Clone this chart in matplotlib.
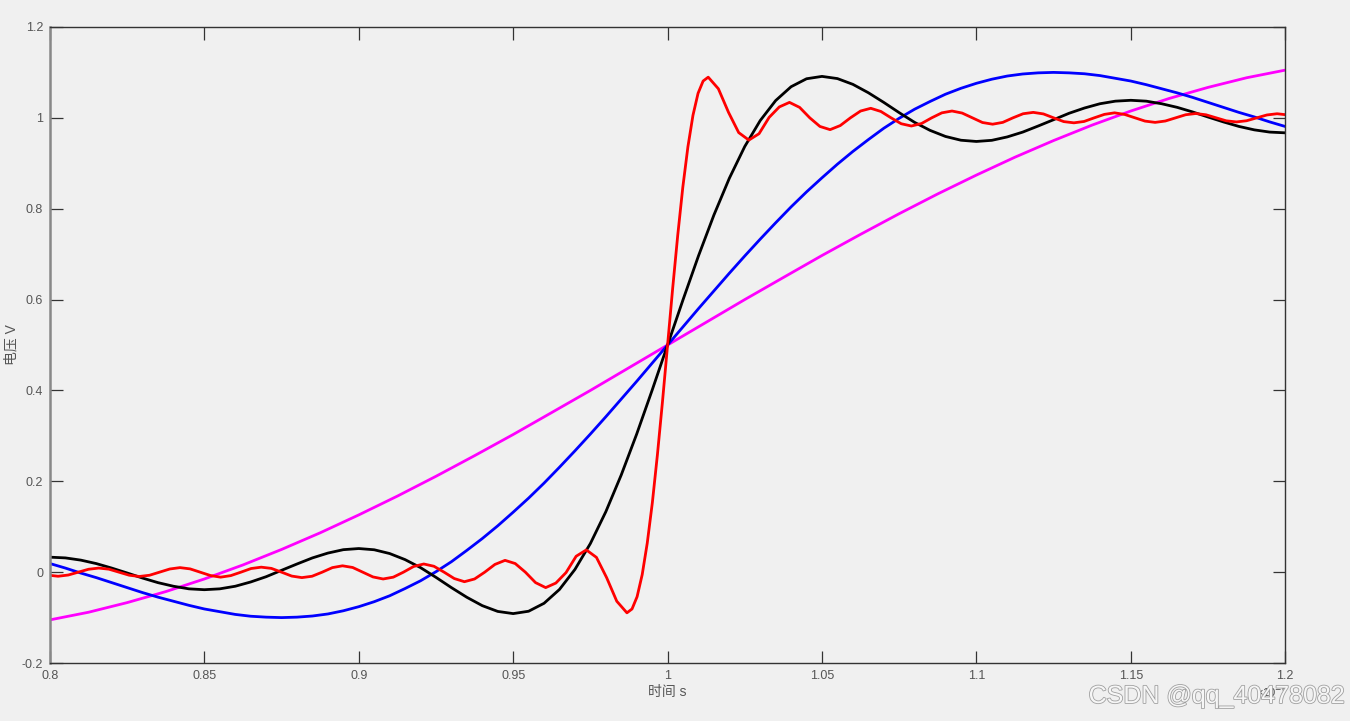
import matplotlib
matplotlib.use("Agg")
import matplotlib.pyplot as plt
import matplotlib.patheffects as pe

plt.rcParams["font.family"] = ["Liberation Sans", "Noto Sans CJK SC", "DejaVu Sans"]

# time axis in units of 1e-6 s, voltage in V
magenta_x = [0.8, 0.8125, 0.825, 0.8375, 0.85, 0.8625, 0.875, 0.8875, 0.9,
             0.9125, 0.925, 0.9375, 0.95, 0.9625, 0.975, 0.9875, 1.0,
             1.0125, 1.025, 1.0375, 1.05, 1.0625, 1.075, 1.0875, 1.1,
             1.1125, 1.125, 1.1375, 1.15, 1.1625, 1.175, 1.1875, 1.2]
magenta_y = [-0.105, -0.0882, -0.067, -0.0428, -0.015, 0.0159, 0.050, 0.0866, 0.126,
             0.1674, 0.211, 0.2564, 0.303, 0.3514, 0.400, 0.450, 0.5,
             0.55, 0.6, 0.6486, 0.697, 0.7436, 0.789, 0.8326, 0.874,
             0.9134, 0.950, 0.9841, 1.015, 1.0428, 1.067, 1.0882, 1.105]

# shared sample times for the blue and black traces
grid_x = [0.800, 0.805, 0.810, 0.815, 0.820, 0.825, 0.830, 0.835, 0.840, 0.845,
          0.850, 0.855, 0.860, 0.865, 0.870, 0.875, 0.880, 0.885, 0.890, 0.895,
          0.900, 0.905, 0.910, 0.915, 0.920, 0.925, 0.930, 0.935, 0.940, 0.945,
          0.950, 0.955, 0.960, 0.965, 0.970, 0.975, 0.980, 0.985, 0.990, 0.995,
          1.000, 1.005, 1.010, 1.015, 1.020, 1.025, 1.030, 1.035, 1.040, 1.045,
          1.050, 1.055, 1.060, 1.065, 1.070, 1.075, 1.080, 1.085, 1.090, 1.095,
          1.100, 1.105, 1.110, 1.115, 1.120, 1.125, 1.130, 1.135, 1.140, 1.145,
          1.150, 1.155, 1.160, 1.165, 1.170, 1.175, 1.180, 1.185, 1.190, 1.195,
          1.200]

blue_y = [0.019, 0.009, -0.002, -0.012, -0.023, -0.034, -0.045, -0.055, -0.064, -0.073,
          -0.081, -0.087, -0.093, -0.097, -0.099, -0.100, -0.099, -0.0965, -0.092, -0.085,
          -0.076, -0.065, -0.052, -0.036, -0.019, 0.001, 0.023, 0.048, 0.074, 0.102,
          0.132, 0.163, 0.196, 0.231, 0.267, 0.304, 0.342, 0.381, 0.420, 0.460,
          0.5, 0.540, 0.580, 0.619, 0.658, 0.696, 0.733, 0.769, 0.804, 0.837,
          0.868, 0.898, 0.926, 0.952, 0.977, 0.999, 1.019, 1.036, 1.052, 1.065,
          1.076, 1.085, 1.092, 1.0965, 1.099, 1.100, 1.099, 1.097, 1.093, 1.087,
          1.081, 1.073, 1.064, 1.055, 1.045, 1.034, 1.023, 1.012, 1.002, 0.991,
          0.981]

black_y = [0.033, 0.0314, 0.0265, 0.0189, 0.009, -0.0018, -0.013, -0.0231, -0.031, -0.0367,
           -0.0386, -0.0367, -0.031, -0.0216, -0.010, 0.0041, 0.018, 0.0314, 0.042, 0.0495,
           0.052, 0.0493, 0.041, 0.0276, 0.010, -0.0114, -0.034, -0.0553, -0.0737, -0.0864,
           -0.0912, -0.086, -0.0685, -0.038, 0.006, 0.063, 0.133, 0.214, 0.304, 0.4005,
           0.5, 0.5995, 0.696, 0.786, 0.867, 0.937, 0.994, 1.038, 1.0685, 1.086,
           1.0912, 1.0864, 1.0737, 1.0553, 1.034, 1.0114, 0.990, 0.9724, 0.959, 0.9507,
           0.948, 0.9505, 0.958, 0.9686, 0.982, 0.9959, 1.010, 1.0216, 1.031, 1.0367,
           1.0386, 1.0367, 1.031, 1.0231, 1.013, 1.0018, 0.991, 0.9811, 0.9735, 0.9686,
           0.967]

red_x = [0.8, 0.80263, 0.80592, 0.80921, 0.8125, 0.81579, 0.81908, 0.82237, 0.82566,
         0.82895, 0.83224, 0.83553, 0.83882, 0.84211, 0.84539, 0.84868, 0.85197,
         0.85526, 0.85855, 0.86184, 0.86513, 0.86842, 0.87171, 0.875, 0.87829,
         0.88158, 0.88487, 0.88816, 0.89145, 0.89474, 0.89803, 0.90132, 0.90461,
         0.90789, 0.91118, 0.91447, 0.91776, 0.92105, 0.92434, 0.92763, 0.93092,
         0.93421, 0.9375, 0.94079, 0.94408, 0.94737, 0.95066, 0.95395, 0.95724,
         0.96053, 0.96382, 0.96711, 0.97039, 0.97368, 0.97697, 0.98026, 0.98355,
         0.98684, 0.98849, 0.99013, 0.99178, 0.99342, 0.99507, 0.99671, 0.99836,
         1.0,
         1.00164, 1.00329, 1.00493, 1.00658, 1.00822, 1.00987, 1.01151, 1.01316,
         1.01645, 1.01974, 1.02303, 1.02632, 1.02961, 1.03289, 1.03618, 1.03947,
         1.04276, 1.04605, 1.04934, 1.05263, 1.05592, 1.05921, 1.0625, 1.06579,
         1.06908, 1.07237, 1.07566, 1.07895, 1.08224, 1.08553, 1.08882, 1.09211,
         1.09539, 1.09868, 1.10197, 1.10526, 1.10855, 1.11184, 1.11513, 1.11842,
         1.12171, 1.125, 1.12829, 1.13158, 1.13487, 1.13816, 1.14145, 1.14474,
         1.14803, 1.15132, 1.15461, 1.15789, 1.16118, 1.16447, 1.16776, 1.17105,
         1.17434, 1.17763, 1.18092, 1.18421, 1.1875, 1.19079, 1.19408, 1.19737, 1.2]
red_y = [-0.007, -0.009, -0.0063, 0.0, 0.0064, 0.009, 0.0066, 0.0, -0.0067,
         -0.0095, -0.0068, 0.0, 0.007, 0.010, 0.0072, 0.0, -0.0074,
         -0.011, -0.0076, 0.0, 0.008, 0.011, 0.0083, 0.0, -0.0086,
         -0.012, -0.009, 0.0, 0.010, 0.014, 0.0103, 0.0, -0.0105,
         -0.015, -0.011, 0.0, 0.0125, 0.018, 0.013, 0.0, -0.014,
         -0.021, -0.015, 0.0, 0.017, 0.026, 0.019, 0.0, -0.023,
         -0.034, -0.024, -0.001, 0.035, 0.049, 0.0325, -0.012, -0.064,
         -0.0895, -0.081, -0.054, -0.0055, 0.064, 0.153, 0.2585, 0.376,
         0.5,
         0.624, 0.7415, 0.847, 0.936, 1.0055, 1.054, 1.081, 1.0895,
         1.064, 1.012, 0.9675, 0.951, 0.965, 1.001, 1.024, 1.034,
         1.023, 1.0, 0.981, 0.974, 0.983, 1.0, 1.015, 1.021,
         1.014, 1.0, 0.987, 0.982, 0.9875, 1.0, 1.011, 1.015,
         1.0105, 1.0, 0.9897, 0.986, 0.990, 1.0, 1.009, 1.012,
         1.0086, 1.0, 0.9917, 0.989, 0.992, 1.0, 1.0076, 1.011,
         1.0074, 1.0, 0.9928, 0.990, 0.993, 1.0, 1.0068, 1.0095,
         1.0067, 1.0, 0.9934, 0.991, 0.9936, 1.0, 1.0063, 1.009, 1.007]

x_ticks = [0.8, 0.85, 0.9, 0.95, 1.0, 1.05, 1.1, 1.15, 1.2]
x_labels = ["0.8", "0.85", "0.9", "0.95", "1", "1.05", "1.1", "1.15", "1.2"]
y_ticks = [-0.2, 0, 0.2, 0.4, 0.6, 0.8, 1, 1.2]
y_labels = ["-0.2", "0", "0.2", "0.4", "0.6", "0.8", "1", "1.2"]

bg = "#f0f0f0"
fig = plt.figure(figsize=(13.5, 7.21), dpi=100, facecolor=bg)
ax = fig.add_axes([0.037, 0.0804, 0.915, 0.8822], facecolor=bg)

lw = 2.0
ax.plot(magenta_x, magenta_y, color="#ff00ff", lw=lw)
ax.plot(grid_x, blue_y, color="#0000ff", lw=lw)
ax.plot(grid_x, black_y, color="#000000", lw=lw)
ax.plot(red_x, red_y, color="#ff0000", lw=lw)

ax.set_xlim(0.8, 1.2)
ax.set_ylim(-0.2, 1.2)
ax.set_xticks(x_ticks)
ax.set_xticklabels(x_labels)
ax.set_yticks(y_ticks)
ax.set_yticklabels(y_labels)
ax.tick_params(direction="in", length=9, width=0.9, color="#333333",
               labelsize=9, labelcolor="#555555", top=True, right=True, pad=5)
for side in ["top", "bottom", "right"]:
    ax.spines[side].set_color("#333333")
    ax.spines[side].set_linewidth(1.0)
ax.spines["left"].set_color("#888888")
ax.spines["left"].set_linewidth(1.8)

ax.set_xlabel("时间 s", fontsize=10, color="#555555", labelpad=2)
ax.set_ylabel("电压 V", fontsize=10, color="#555555", labelpad=2)

# exponent marker and page watermark
fig.text(1272 / 1350, 1 - 692 / 721, "×10$^{-6}$", fontsize=8, color="#444444",
         ha="center", va="center")
fig.text(1345 / 1350, 1 - 696 / 721, "CSDN @qq_40478082", fontsize=18,
         color="#f6f6f6", ha="right", va="center",
         path_effects=[pe.withStroke(linewidth=1.2, foreground="#a0a0a0")])

fig.savefig("out.png", dpi=100, facecolor=bg)
